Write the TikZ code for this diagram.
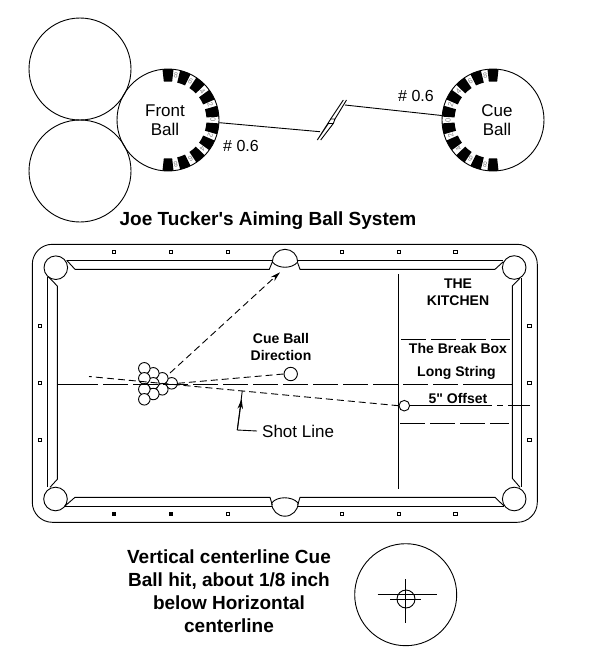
\documentclass[tikz,border=0pt]{standalone}
\usepackage{fontspec}
\usepackage{xcolor}
\setmainfont{Liberation Sans}[Ligatures=TeXOff]
\usetikzlibrary{arrows.meta,positioning}
\definecolor{ringGray}{HTML}{808080}
\tikzset{
  lineart/.style={line width=0.9pt,draw=black},
  bigball/.style={circle,lineart,minimum size=102pt,inner sep=0pt},
  tableball/.style={circle,lineart,fill=white,minimum size=11.5pt,inner sep=0pt},
  corner/.style={circle,lineart,minimum size=23.6pt,inner sep=0pt},
  sight/.style={rectangle,lineart,line width=0.8pt,fill=white,minimum size=3.6pt,inner sep=0pt},
  sightfill/.style={sight,fill=black},
  balltext/.style={align=center,inner sep=0pt,font=\fontsize{17}{19}\selectfont},
  plaintext/.style={align=center,inner sep=0pt,font=\fontsize{16}{19}\selectfont},
  tabletext/.style={align=center,inner sep=0pt,font=\fontsize{14}{16.5}\selectfont\bfseries},
  headtext/.style={align=center,inner sep=0pt,font=\fontsize{19}{23}\selectfont\bfseries},
  ringdigit/.style={inner sep=0pt,text=ringGray,font=\fontsize{7.5}{7.5}\selectfont},
  dashline/.style={lineart,dash pattern=on 7pt off 4pt},
  longdash/.style={lineart,dash pattern=on 25pt off 5pt},
  arrow/.style={-{Stealth[length=10pt,width=5.5pt]},lineart}
}

\begin{document}
\begin{tikzpicture}[x=1pt,y=1pt]
  \useasboundingbox (0,-656) rectangle (601,0);
  % aiming balls
  \node[bigball] (upperball) at (80,-69) {};
  \node[bigball] (lowerball) at (80,-171) {};
  \node[bigball] (frontball) at (168,-120) {};
  \node[bigball] (cueball) at (493,-120) {};
  \foreach \a in {90,70,...,-90} {
    \fill (168,-120) ++(\a+6.2:51) arc[start angle=\a+6.2,end angle=\a-6.2,radius=51]
      -- ++(\a-6.2:-12.5) arc[start angle=\a-6.2,end angle=\a+6.2,radius=38.5] -- cycle;
    \fill (493,-120) ++(180-\a-6.2:51) arc[start angle=180-\a-6.2,end angle=180-\a+6.2,radius=51]
      -- ++(180-\a+6.2:-12.5) arc[start angle=180-\a+6.2,end angle=180-\a-6.2,radius=38.5] -- cycle;
  }
  \foreach \a/\d in {80/8,60/6,40/4,20/2,0/0,-20/2,-40/4,-60/6,-80/8} {
    \node[ringdigit,rotate=\a-90] (fd\a) at ([shift={(\a:45)}]frontball.center) {\d};
    \node[ringdigit,rotate=90-\a] (cd\a) at ([shift={(180-\a:45)}]cueball.center) {\d};
  }
  \node[balltext] (frontlabel) at (165,-120) {Front\\Ball};
  \node[balltext] (cuelabel) at (497,-120) {Cue\\Ball};
  \node[plaintext,anchor=west] (frontnum) at (223,-146) {\# 0.6};
  \node[plaintext,anchor=west] (cuenum) at (398,-96) {\# 0.6};
  \coordinate (breakL) at (320,-131.7);
  \coordinate (breakR) at (345,-105);
  \draw[lineart] (frontball.-3.4) -- (breakL);
  \draw[lineart] (breakR) -- (cueball.175);
  \draw[lineart] (317.3,-140) -- (328.3,-123.5) -- (333.3,-123.5) -- (335,-119) -- (330.7,-119) -- cycle;
  \draw[lineart] (320.7,-140) -- (333.3,-123.5);
  \draw[lineart] (330.7,-119) -- (343.3,-100);
  \draw[lineart] (335,-119) -- (346.5,-100);
  \node[headtext] (title) at (268,-221) {Joe Tucker's Aiming Ball System};
  % table outline
  \draw[lineart,rounded corners=20pt] (32.3,-244.3) rectangle (537.3,-522.3);
  \node[corner] (pocketTL) at (55.8,-267.7) {};
  \node[corner] (pocketTR) at (514.2,-267.5) {};
  \node[corner] (pocketBL) at (55.5,-499) {};
  \node[corner] (pocketBR) at (514.2,-499) {};
  % rails and cushions
  \draw[lineart] (66.7,-260.3) -- (272.5,-260.3);
  \draw[lineart] (297.5,-260.3) -- (503.3,-260.3);
  \draw[lineart] (65,-506) -- (272,-506);
  \draw[lineart] (298,-506) -- (504,-506);
  \draw[lineart] (47.3,-276.7) -- (47.3,-487);
  \draw[lineart] (521.7,-278) -- (521.7,-487);
  \draw[lineart] (66.7,-260.3) -- (75,-269.3) -- (269.3,-269.3) -- (272.3,-262);
  \draw[lineart] (297.7,-263) -- (300,-269.3) -- (495,-269.3) -- (503.3,-261.7);
  \draw[lineart] (48.3,-276.7) -- (57.3,-286) -- (57.3,-479.3) -- (50,-487.3);
  \draw[lineart] (520,-278.3) -- (512.3,-286) -- (512.3,-478.3) -- (520,-487.3);
  \draw[lineart] (65,-506) -- (75,-497.3) -- (270,-497.3) -- (272.3,-505);
  \draw[lineart] (297.7,-505) -- (300,-497.3) -- (495,-497.3) -- (504,-506);
  % side pockets
  \draw[lineart] (272.3,-262) arc[start angle=180,end angle=0,radius=12.7];
  \draw[lineart] (272.3,-262) .. controls (278,-269) and (292,-269) .. (297.7,-262);
  \draw[lineart] (271.7,-503) arc[start angle=180,end angle=360,radius=13.2];
  \draw[lineart] (271.7,-503) .. controls (277,-496) and (292,-496) .. (298.1,-503);
  % sights
  \foreach \x in {114,170.7,227.7,341.7,398.7,455.3}
    \node[sight] (top\x) at (\x,-251.7) {};
  \foreach \x in {114,170.7}
    \node[sightfill] (bot\x) at (\x,-513.7) {};
  \foreach \x in {227.7,341.7,398.7,455.3}
    \node[sight] (bot\x) at (\x,-513.7) {};
  \foreach \y in {325.7,382.7,440} {
    \node[sight] (left\y) at (40,-\y) {};
    \node[sight] (right\y) at (529.3,-\y) {};
  }
  % rack and balls
  \foreach \n/\x/\y in {rackA/171.7/383.3,rackB/162.3/378.3,rackC/162.3/389.3,rackD/153.3/373.3,
    rackE/153.3/383.3,rackF/153.3/394,rackG/144.3/368.3,rackH/144.3/378.3,rackI/144.3/389.3,rackJ/144.3/399.3}
    \node[tableball] (\n) at (\x,-\y) {};
  % kitchen lines
  \draw[lineart] (57.3,-384) -- (98,-384);
  \draw[longdash] (103,-384) -- (484,-384);
  \draw[lineart] (484,-384) -- (512.3,-384);
  \draw[lineart] (398.7,-274.3) -- (398.7,-489.3);
  \draw[longdash] (401,-339.3) -- (510,-339.3);
  \draw[longdash] (400,-423.3) -- (509.3,-423.3);
  \node[tableball,minimum size=13.4pt] (dirball) at (290.7,-374) {};
  \node[tableball,minimum size=10.6pt] (spotball) at (404.3,-405.7) {};
  \coordinate (shotstart) at (170,-373);
  \coordinate (shottip) at (280,-272.3);
  \coordinate (shotend) at (89,-376.5);
  \coordinate (offsetA) at (492,-405.7);
  \coordinate (offsetB) at (497,-405.7);
  \coordinate (offsetC) at (503,-405.7);
  \coordinate (offsetD) at (508,-405.7);
  \coordinate (offsetend) at (530,-405.7);
  \draw[arrow,dash pattern=on 7pt off 4pt] (shotstart) -- (shottip);
  \draw[dashline] (spotball.west) -- (shotend);
  \draw[dashline] (rackA.east) -- (dirball.west);
  \draw[lineart] (spotball.east) -- (offsetA);
  \draw[lineart] (offsetB) -- (offsetC);
  \draw[lineart] (offsetD) -- (offsetend);
  % labels
  \node[tabletext] (dirlabel) at (281,-347) {Cue Ball\\Direction};
  \node[tabletext] (kitchen) at (458,-292) {THE\\KITCHEN};
  \node[tabletext] (breakbox) at (458,-348) {The Break Box};
  \node[tabletext] (longstring) at (456.5,-373.3) {Long String};
  \node[tabletext] (offset) at (458,-398.3) {5" Offset};
  \node[balltext,anchor=west] (shotlabel) at (262,-431) {Shot Line};
  \coordinate (shotbend) at (237.3,-430);
  \coordinate (shotmark) at (241.6,-399);
  \coordinate (shothit) at (242.3,-390.7);
  \draw[lineart] (shotlabel.west) ++(-5,0) -- (shotbend) -- (shothit);
  \draw[arrow] (shotbend) -- (shotmark);
  % spot on the cue ball
  \node[headtext] (hitnote) at (229,-591) {Vertical centerline Cue\\Ball hit, about 1/8 inch\\below Horizontal\\centerline};
  \node[bigball] (spotview) at (405.7,-594.7) {};
  \node[circle,lineart,minimum size=18pt,inner sep=0pt] (hitmark) at (406,-599) {};
  \draw[lineart] (377.7,-594) -- (436.7,-594);
  \draw[lineart] (405.3,-579) -- (405.3,-623.3);
  \draw[lineart] (390,-599) -- (421,-599);
\end{tikzpicture}
\end{document}
